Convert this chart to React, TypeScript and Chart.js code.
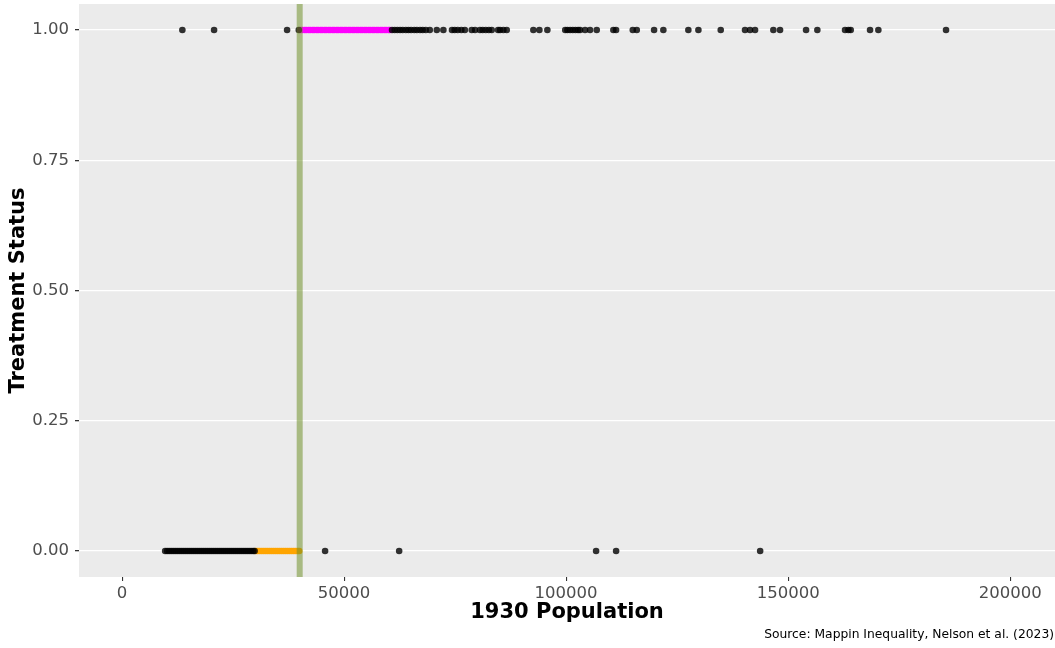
import React, { useEffect, useRef } from "react";
import { Chart, registerables } from "chart.js";

Chart.register(...registerables);

// Treated (status = 1), outside the 30k–60k window (black)
const treatedOutside = [
  13580, 20720, 37160, 39800,
  60800, 61400, 62000, 62600, 63200, 63900, 64500, 65100, 65800, 66400, 67100, 67700, 68400, 69300,
  70870, 72360, 74300, 74900, 75600, 76400, 77200, 78750, 79500,
  80600, 81200, 81900, 82600, 83250, 84680, 85130, 85870, 86630,
  92620, 93980, 95780, 99800, 100300, 100900, 101500, 102100, 102700, 103150,
  104270, 105390, 106900, 110640, 111250, 115010, 115910, 119810, 121900,
  127530, 129790, 134820, 140290, 141420, 142550, 146670, 148180,
  154040, 156580, 162820, 163570, 164100, 168450, 170320, 185560,
];

// Treated (status = 1), inside the window 40k–60k (magenta)
const treatedWindow = [
  40150, 40600, 41100, 41500, 42000, 42400, 42900, 43300, 43800, 44200,
  44700, 45100, 45600, 46000, 46500, 46900, 47400, 47800, 48300, 48700,
  49200, 49600, 50100, 50500, 51000, 51400, 51900, 52300, 52800, 53200,
  53700, 54100, 54600, 55000, 55500, 55900, 56400, 56800, 57300, 57700,
  58200, 58600, 59100, 59500, 60000, 60300,
];

// Control (status = 0), outside the window (black)
const controlOutside = [
  9700, 10150, 10600, 11050, 11500, 11950, 12400, 12850, 13300, 13750,
  14200, 14650, 15100, 15550, 16000, 16450, 16900, 17350, 17800, 18250,
  18700, 19150, 19600, 20050, 20500, 20950, 21400, 21850, 22300, 22750,
  23200, 23650, 24100, 24550, 25000, 25450, 25900, 26350, 26800, 27250,
  27700, 28150, 28600, 29050, 29500, 29850,
  45720, 62400, 106750, 111260, 143700,
];

// Control (status = 0), inside the window 30k–40k (orange)
const controlWindow = [
  30100, 30550, 31000, 31450, 31900, 32350, 32800, 33250, 33700, 34150,
  34600, 35050, 35500, 35950, 36400, 36850, 37300, 37750, 38200, 38650,
  39100, 39550, 39900,
];

const cutoff = 40000;
const yTicks = [0, 0.25, 0.5, 0.75, 1];
const xTicks = [0, 50000, 100000, 150000, 200000];
const sourceText = "Source: Mappin Inequality, Nelson et al. (2023)";

const FONT = "'DejaVu Sans', sans-serif";

export default function App() {
  const ref = useRef<HTMLCanvasElement | null>(null);

  useEffect(() => {
    if (!ref.current) return;
    const panelBg = {
      id: "panelBg",
      beforeDraw(chart: any) {
        const { ctx, chartArea } = chart;
        ctx.save();
        ctx.fillStyle = "#ebebeb";
        ctx.fillRect(chartArea.left, chartArea.top, chartArea.right - chartArea.left, chartArea.bottom - chartArea.top);
        ctx.restore();
      },
      afterDraw(chart: any) {
        const { ctx } = chart;
        ctx.save();
        ctx.fillStyle = "#000";
        ctx.font = "12.3px " + FONT;
        ctx.textAlign = "right";
        ctx.textBaseline = "middle";
        ctx.fillText(sourceText, 1054, 635);
        ctx.restore();
      },
    };

    const chart = new Chart(ref.current, {
      type: "scatter",
      data: {
        datasets: [
          {
            label: "cutoff",
            data: [
              { x: cutoff, y: -0.1 },
              { x: cutoff, y: 1.1 },
            ],
            showLine: true,
            borderColor: "rgba(107,142,35,0.53)",
            borderWidth: 6,
            pointRadius: 0,
          } as any,
          {
            label: "treatedOutside",
            data: treatedOutside.map((x) => ({ x, y: 1 })),
            backgroundColor: "rgba(0,0,0,0.8)",
            borderWidth: 0,
            pointRadius: 3.3,
          },
          {
            label: "controlOutside",
            data: controlOutside.map((x) => ({ x, y: 0 })),
            backgroundColor: "rgba(0,0,0,0.8)",
            borderWidth: 0,
            pointRadius: 3.3,
          },
          {
            label: "treatedWindow",
            data: treatedWindow.map((x) => ({ x, y: 1 })),
            backgroundColor: "#ff00ff",
            borderWidth: 0,
            pointRadius: 3.3,
          },
          {
            label: "controlWindow",
            data: controlWindow.map((x) => ({ x, y: 0 })),
            backgroundColor: "#ffa500",
            borderWidth: 0,
            pointRadius: 3.3,
          },
        ],
      },
      options: {
        animation: false,
        responsive: false,
        maintainAspectRatio: false,
        layout: { autoPadding: false, padding: { top: 4, right: 0, left: 0, bottom: 0 } },
        plugins: {
          legend: { display: false },
          tooltip: { enabled: false },
        },
        scales: {
          x: {
            type: "linear",
            min: -9700,
            max: 210100,
            afterBuildTicks: (s: any) => {
              s.ticks = xTicks.map((v) => ({ value: v }));
            },
            afterFit: (s: any) => {
              s.height = 71;
              s.paddingLeft = 0;
              s.paddingRight = 0;
            },
            border: { display: false },
            grid: {
              drawOnChartArea: false,
              drawTicks: true,
              tickLength: 4,
              tickColor: "#333333",
              lineWidth: 1.1,
            },
            ticks: {
              color: "#4d4d4d",
              font: { family: FONT, size: 16.5 },
              padding: 3,
              maxRotation: 0,
              callback: (v: any) => String(v),
            },
            title: {
              display: true,
              text: "1930 Population",
              color: "#000",
              font: { family: FONT, size: 21, weight: "bold" },
              padding: { top: 0, bottom: 23 },
            },
          },
          y: {
            type: "linear",
            min: -0.05,
            max: 1.05,
            afterBuildTicks: (s: any) => {
              s.ticks = yTicks.map((v) => ({ value: v }));
            },
            afterFit: (s: any) => {
              s.width = 79;
              s.paddingTop = 0;
              s.paddingBottom = 0;
            },
            border: { display: false },
            grid: {
              color: "#ffffff",
              lineWidth: 1.3,
              drawTicks: true,
              tickLength: 4,
              tickColor: "#333333",
            },
            ticks: {
              color: "#4d4d4d",
              font: { family: FONT, size: 16.5 },
              padding: 6,
              callback: (v: any) => Number(v).toFixed(2),
            },
            title: {
              display: true,
              text: "Treatment Status",
              color: "#000",
              font: { family: FONT, size: 21, weight: "bold" },
              padding: { top: 6, bottom: 0 },
            },
          },
        },
      },
      plugins: [panelBg],
    } as any);
    return () => chart.destroy();
  }, []);

  return (
    <div style={{ position: "fixed", left: 0, top: 0, width: 1055, height: 648, background: "#fff" }}>
      <canvas ref={ref} width={1055} height={648} style={{ width: 1055, height: 648 }} />
    </div>
  );
}
